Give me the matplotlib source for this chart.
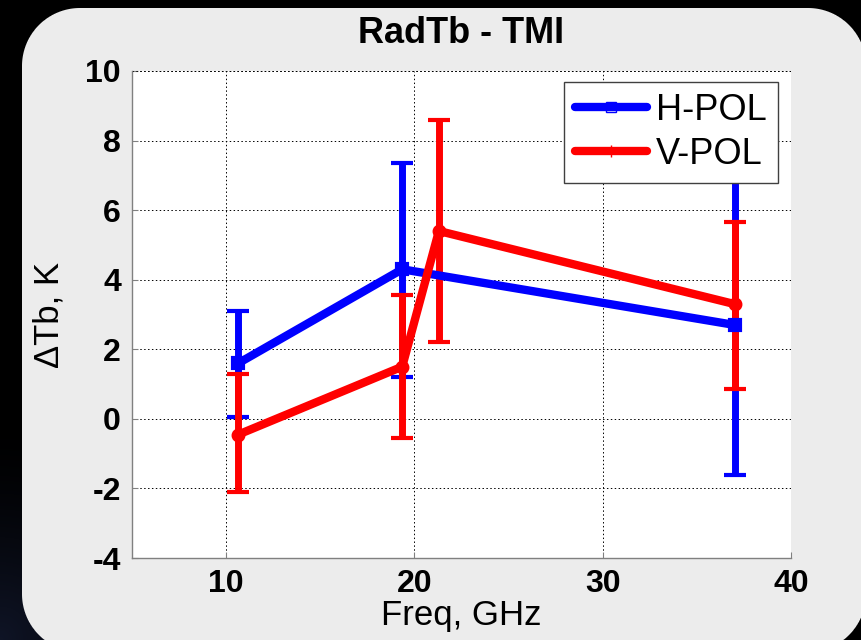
import numpy as np
import matplotlib
matplotlib.use("Agg")
import matplotlib.pyplot as plt
from matplotlib.lines import Line2D

# ---- data ----
title = "RadTb - TMI"
xlabel = "Freq, GHz"
ylabel = "\u0394Tb, K"
series_names = ["H-POL", "V-POL"]

h_freq = [10.65, 19.35, 37.0]
h_val = [1.6, 4.3, 2.7]
h_low = [0.05, 1.2, -1.6]
h_high = [3.1, 7.35, 7.0]

v_freq = [10.65, 19.35, 21.3, 37.0]
v_val = [-0.45, 1.5, 5.4, 3.3]
v_low = [-2.1, -0.55, 2.2, 0.85]
v_high = [1.3, 3.57, 8.6, 5.65]

xticks = [10, 20, 30, 40]
yticks = [-4, -2, 0, 2, 4, 6, 8, 10]

plt.rcParams['font.family'] = ['Liberation Sans', 'DejaVu Sans']
plt.rcParams['axes.unicode_minus'] = False

W, H = 862, 640
fig = plt.figure(figsize=(W / 100, H / 100), dpi=100)
fig.patch.set_facecolor('black')

# background: black with faint blue glow bottom-left, plus rounded grey panel
bg = fig.add_axes([0, 0, 1, 1])
bg.set_axis_off()
yy, xx = np.mgrid[0:H, 0:W].astype(float)
d = np.sqrt((xx / 200.0) ** 2 + ((H - 1 - yy) / 220.0) ** 2)
g = np.clip(1 - d, 0, 1) ** 1.5
img = np.zeros((H, W, 3))
img[..., 0] = 0.06 * g
img[..., 1] = 0.08 * g
img[..., 2] = 0.15 * g
left, top, right, bottom, r = 22.0, 8.0, 866.0, 652.0, 58.0
cx, cy = (left + right) / 2, (top + bottom) / 2
hx, hy = (right - left) / 2, (bottom - top) / 2
qx = np.abs(xx + 0.5 - cx) - (hx - r)
qy = np.abs(yy + 0.5 - cy) - (hy - r)
sd = np.sqrt(np.maximum(qx, 0) ** 2 + np.maximum(qy, 0) ** 2) \
    + np.minimum(np.maximum(qx, qy), 0) - r
alpha = np.clip(0.5 - sd, 0, 1)[..., None]
panel_col = np.array([0xec, 0xec, 0xec]) / 255.0
img = img * (1 - alpha) + panel_col * alpha
bg.imshow(img, extent=[0, W, 0, H], origin='upper', aspect='auto',
          interpolation='nearest')
bg.set_xlim(0, W)
bg.set_ylim(0, H)

ax = fig.add_axes([132 / W, 82 / H, 659 / W, 487 / H])
ax.set_facecolor('white')

def draw(freq, val, low, high, color, marker, ms):
    yerr = [np.array(val) - np.array(low), np.array(high) - np.array(val)]
    ax.errorbar(freq, val, yerr=yerr, color=color, lw=6.0, elinewidth=5.0,
                capsize=8, capthick=6.5, marker=marker, ms=ms, mew=3,
                mec=color, mfc=color, solid_capstyle='round',
                solid_joinstyle='round', zorder=3)

draw(h_freq, h_val, h_low, h_high, '#0000ff', 's', 7)
draw(v_freq, v_val, v_low, v_high, '#ff0000', 'o', 7)

ax.set_xlim(5, 40)
ax.set_ylim(-4, 10)
ax.set_xticks(xticks)
ax.set_yticks(yticks)
ax.grid(True, color='black', linestyle=(0, (1.5, 2.5)), linewidth=0.7)
ax.set_axisbelow(True)
for s in ['top', 'right']:
    ax.spines[s].set_visible(False)
for s in ['left', 'bottom']:
    ax.spines[s].set_color('#808080')
    ax.spines[s].set_linewidth(1.0)
ax.tick_params(direction='in', length=4, color='#808080', labelsize=23, pad=8)
for lab in ax.get_xticklabels() + ax.get_yticklabels():
    lab.set_fontweight('bold')
ax.axhline(10, color='black', linestyle=(0, (1.5, 2.5)), lw=0.7, zorder=1)
ax.axvline(40, color='black', linestyle=(0, (1.5, 2.5)), lw=0.7, zorder=1)

ax.set_title(title, fontsize=26, fontweight='bold', pad=20)
ax.set_xlabel(xlabel, fontsize=25, labelpad=0)
ax.set_ylabel(ylabel, fontsize=25, labelpad=14)

handles = [
    Line2D([], [], color='#0000ff', lw=6, solid_capstyle='round', marker='s',
           ms=7, mfc='none', mec='#0000ff', mew=1),
    Line2D([], [], color='#ff0000', lw=6, solid_capstyle='round', marker='+',
           ms=9, mec='#ff0000', mew=1),
]
leg = ax.legend(handles, series_names, loc='upper right',
                bbox_to_anchor=(0.98, 0.977), borderaxespad=0, fontsize=26,
                handlelength=2.0, handletextpad=0.25, labelspacing=0.25,
                borderpad=0.3, frameon=True, fancybox=False, framealpha=1)
leg.get_frame().set_edgecolor('#404040')
leg.get_frame().set_linewidth(1.0)
leg.set_zorder(10)

fig.savefig('out.png', dpi=100, facecolor=fig.get_facecolor())
